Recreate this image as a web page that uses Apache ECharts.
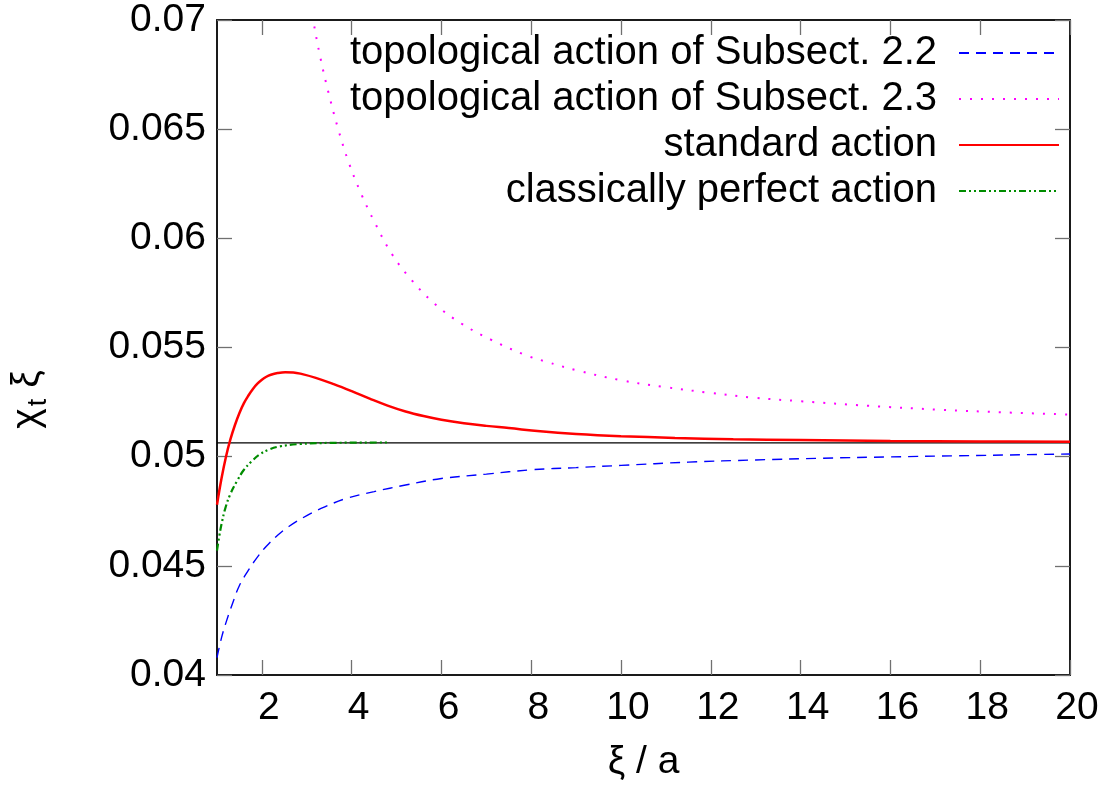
<!DOCTYPE html>
<html>
<head>
<meta charset="utf-8">
<title>Topological susceptibility</title>
<script src="https://cdn.jsdelivr.net/npm/echarts@6/dist/echarts.min.js"></script>
<style>
  html, body { margin: 0; padding: 0; background: #ffffff; }
  #chart { width: 1110px; height: 787px; }
</style>
</head>
<body>
<div id="chart"></div>
<script>
// Axis ticks
const xTicks = [2, 4, 6, 8, 10, 12, 14, 16, 18, 20];
const yTicks = [0.04, 0.045, 0.05, 0.055, 0.06, 0.065, 0.07];

// Legend labels
const seriesNames = [
  'topological action of Subsect. 2.2',
  'topological action of Subsect. 2.3',
  'standard action',
  'classically perfect action'
];

// chi_t * xi against xi / a, one array per action
const topo22 = [
  [1.0, 0.0408], [1.1, 0.0417], [1.2, 0.0424], [1.35, 0.0433], [1.5, 0.0441],
  [1.7, 0.0448], [1.9, 0.0454], [2.1, 0.0459], [2.35, 0.0464], [2.6, 0.0468],
  [3.0, 0.0473], [3.4, 0.0477], [3.9, 0.0481], [4.5, 0.0484], [5.2, 0.0487],
  [6.0, 0.0490], [7.0, 0.0492], [8.0, 0.0494], [9.0, 0.0495], [10.0, 0.0496],
  [11.5, 0.04975], [13.0, 0.04985], [14.5, 0.04993], [16.0, 0.04999],
  [17.5, 0.05004], [19.0, 0.05009], [20.0, 0.05012]
];

const topo23 = [
  [3.0, 0.0717], [3.15, 0.0699], [3.30, 0.0683], [3.48, 0.0667], [3.70, 0.0650],
  [3.93, 0.0635], [4.22, 0.0620], [4.52, 0.0607], [4.89, 0.0593], [5.33, 0.0581],
  [5.85, 0.0570], [6.44, 0.0561], [7.11, 0.05535], [7.85, 0.05467], [8.30, 0.05437],
  [9.04, 0.05394], [10.0, 0.0535], [10.96, 0.05319], [11.96, 0.05293], [12.96, 0.0527],
  [14.0, 0.05254], [15.5, 0.05233], [17.1, 0.05215], [18.5, 0.05203], [20.0, 0.05193]
];

const standard = [
  [1.0, 0.0478], [1.1, 0.0490], [1.2, 0.0500], [1.3, 0.0508], [1.4, 0.05145],
  [1.5, 0.0520], [1.6, 0.05245], [1.7, 0.0528], [1.8, 0.05310], [1.9, 0.05334],
  [2.0, 0.05352], [2.1, 0.05366], [2.2, 0.05375], [2.35, 0.05383], [2.52, 0.05387],
  [2.7, 0.05386], [2.9, 0.05378], [3.2, 0.05361], [3.6, 0.05332], [4.0, 0.05300],
  [4.4, 0.05266], [4.8, 0.05234], [5.2, 0.05207], [5.6, 0.05186], [6.0, 0.05169],
  [6.5, 0.05153], [7.0, 0.05141], [7.5, 0.05131], [8.2, 0.05116], [9.0, 0.05104],
  [10.0, 0.05094], [11.2, 0.05086], [12.5, 0.05080], [14.0, 0.05076], [16.0, 0.05072],
  [18.0, 0.05070], [20.0, 0.05068]
];

const perfect = [
  [1.0, 0.0457], [1.05, 0.04635], [1.1, 0.0469], [1.18, 0.0476], [1.3, 0.0483],
  [1.45, 0.0489], [1.6, 0.0494], [1.78, 0.0498], [1.95, 0.0501], [2.15, 0.05032],
  [2.4, 0.05047], [2.85, 0.05058], [3.5, 0.05063], [4.85, 0.05065]
];

// continuum value
const continuum = 0.05063;
const xRange = [1, 20];

const FONT = 'Liberation Sans, Arial, Helvetica, sans-serif';
const tickStyle = { color: '#707070', width: 1.3 };
const frameStyle = { color: '#1a1a1a', width: 2 };

const chart = echarts.init(document.getElementById('chart'), null, { renderer: 'canvas' });

const option = {
  animation: false,
  backgroundColor: '#ffffff',
  textStyle: { fontFamily: FONT },
  grid: { left: 215, right: 40, top: 20, bottom: 108, containLabel: false },
  legend: {
    orient: 'vertical',
    align: 'right',
    right: 45,
    top: 25,
    itemWidth: 100,
    itemHeight: 2,
    itemGap: 0,
    itemStyle: { opacity: 0 },
    data: seriesNames,
    textStyle: {
      fontFamily: FONT,
      fontSize: 40,
      color: '#000',
      lineHeight: 46,
      padding: [0, 17, 0, 0]
    }
  },
  xAxis: [
    {
      type: 'value',
      min: xRange[0],
      max: xRange[1],
      position: 'bottom',
      name: 'ξ / a',
      nameLocation: 'middle',
      nameGap: 68,
      nameTextStyle: { fontFamily: FONT, fontSize: 39, color: '#000' },
      axisLine: { show: true, onZero: false, lineStyle: frameStyle },
      axisTick: { show: true, inside: true, length: 15, lineStyle: tickStyle, customValues: xTicks },
      axisLabel: {
        show: true, margin: 14, fontFamily: FONT, fontSize: 39, color: '#000',
        customValues: xTicks, padding: [0, 0, 0, 14]
      },
      splitLine: { show: false }
    },
    {
      type: 'value',
      min: xRange[0],
      max: xRange[1],
      position: 'top',
      axisLine: { show: true, onZero: false, lineStyle: frameStyle },
      axisTick: { show: true, inside: true, length: 15, lineStyle: tickStyle, customValues: xTicks },
      axisLabel: { show: false },
      splitLine: { show: false }
    }
  ],
  yAxis: [
    {
      type: 'value',
      min: yTicks[0],
      max: yTicks[yTicks.length - 1],
      position: 'left',
      name: '{n|χ}{s|t}{n| ξ}',
      nameLocation: 'middle',
      nameRotate: 90,
      nameGap: 165,
      nameTextStyle: {
        padding: [0, 104, 0, 0],
        rich: {
          n: { fontFamily: FONT, fontSize: 39, color: '#000' },
          s: { fontFamily: FONT, fontSize: 27, color: '#000', padding: [22, 0, 0, 2] }
        }
      },
      axisLine: { show: true, onZero: false, lineStyle: frameStyle },
      axisTick: { show: true, inside: true, length: 15, lineStyle: tickStyle, customValues: yTicks },
      axisLabel: {
        show: true, margin: 11, fontFamily: FONT, fontSize: 39, color: '#000',
        customValues: yTicks,
        formatter: v => String(+v.toFixed(3))
      },
      splitLine: { show: false }
    },
    {
      type: 'value',
      min: yTicks[0],
      max: yTicks[yTicks.length - 1],
      position: 'right',
      axisLine: { show: true, onZero: false, lineStyle: frameStyle },
      axisTick: { show: true, inside: true, length: 15, lineStyle: tickStyle, customValues: yTicks },
      axisLabel: { show: false },
      splitLine: { show: false }
    }
  ],
  series: [
    {
      name: 'continuum',
      type: 'line',
      data: [[xRange[0], continuum], [xRange[1], continuum]],
      showSymbol: false,
      symbol: 'none',
      silent: true,
      lineStyle: { color: '#000000', width: 1.3 },
      z: 1
    },
    {
      name: seriesNames[0],
      type: 'line',
      data: topo22,
      smooth: 0.4,
      symbol: 'none',
      color: '#0000ff',
      lineStyle: { color: '#0000ff', width: 1.4, type: [10, 7] },
      z: 2
    },
    {
      name: seriesNames[1],
      type: 'line',
      data: topo23,
      smooth: 0.4,
      symbol: 'none',
      color: '#ff00ff',
      lineStyle: { color: '#ff00ff', width: 2, type: [2, 9] },
      z: 2
    },
    {
      name: seriesNames[2],
      type: 'line',
      data: standard,
      smooth: 0.4,
      symbol: 'none',
      color: '#ff0000',
      lineStyle: { color: '#ff0000', width: 2.5, type: 'solid' },
      z: 3
    },
    {
      name: seriesNames[3],
      type: 'line',
      data: perfect,
      smooth: 0.4,
      symbol: 'none',
      color: '#008c00',
      lineStyle: { color: '#008c00', width: 2.2, type: [7, 3, 2, 3, 2, 3] },
      z: 3
    }
  ]
};

chart.setOption(option);
</script>
</body>
</html>
